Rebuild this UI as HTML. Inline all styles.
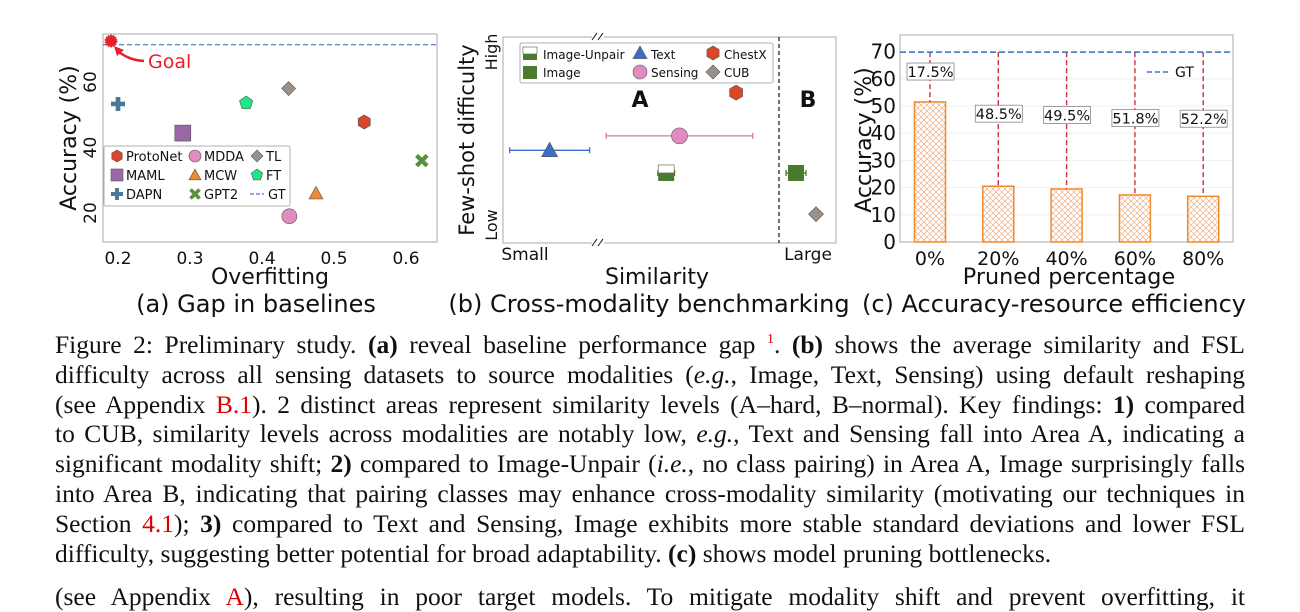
<!DOCTYPE html>
<html><head><meta charset="utf-8">
<style>
html,body{margin:0;padding:0;background:#fff;width:1300px;height:600px;overflow:hidden}
svg text{font-family:"DejaVu Sans","Liberation Sans",sans-serif}
.cap{position:absolute;left:55px;width:1190px;font-family:"Liberation Serif",serif;font-size:25.5px;line-height:29.8px;color:#111}
.cap div{text-align:justify;text-align-last:justify;white-space:nowrap;height:29.8px}
.cap div.last{text-align-last:left}
.r{color:#d00}
sup{font-size:14px;line-height:0;vertical-align:baseline;position:relative;top:-10px}
</style></head><body>
<svg id="fig" width="1300" height="325" style="position:absolute;left:0;top:0">
<defs>
<pattern id="hatch" width="6" height="6" patternUnits="userSpaceOnUse">
<rect width="6" height="6" fill="#fff"/>
<path d="M0,0L6,6M6,0L0,6" stroke="#f0a070" stroke-width="0.6"/>
</pattern>
</defs>
</svg>
<div class="cap" style="top:330px">
<div>Figure 2: Preliminary study. <b>(a)</b> reveal baseline performance gap <sup class="r">1</sup>. <b>(b)</b> shows the average similarity and FSL</div>
<div>difficulty across all sensing datasets to source modalities (<i>e.g.</i>, Image, Text, Sensing) using default reshaping</div>
<div>(see Appendix <span class="r">B.1</span>). 2 distinct areas represent similarity levels (A–hard, B–normal). Key findings: <b>1)</b> compared</div>
<div>to CUB, similarity levels across modalities are notably low, <i>e.g.</i>, Text and Sensing fall into Area A, indicating a</div>
<div>significant modality shift; <b>2)</b> compared to Image-Unpair (<i>i.e.</i>, no class pairing) in Area A, Image surprisingly falls</div>
<div>into Area B, indicating that pairing classes may enhance cross-modality similarity (motivating our techniques in</div>
<div>Section <span class="r">4.1</span>); <b>3)</b> compared to Text and Sensing, Image exhibits more stable standard deviations and lower FSL</div>
<div class="last">difficulty, suggesting better potential for broad adaptability. <b>(c)</b> shows model pruning bottlenecks.</div>
<div style="margin-top:14px">(see Appendix <span class="r">A</span>), resulting in poor target models. To mitigate modality shift and prevent overfitting, it</div>
</div>
<script>
// Panel (a) data
const aNames = ["ProtoNet","MAML","DAPN","MDDA","MCW","GPT2","TL","FT"];
const aOverfit = [0.542,0.29,0.2,0.438,0.475,0.622,0.437,0.378];
const aAcc = [47.8,44.4,53.3,19,26,36,58,53.6];
const aGT = 71.4;
const aXTicks = [0.2,0.3,0.4,0.5,0.6];
const aYTicks = [20,40,60];
// Panel (b) data (relative units 0..100)
const bNames = ["Text","Sensing","Image-Unpair","Image","ChestX","CUB"];
const bSim = [14,53,49,88,70,94];
const bSimErr = [12,22,2.5,3,0,0];
const bDiff = [45,52,34,34,73,14];
// Panel (c) data
const cCats = ["0%","20%","40%","60%","80%"];
const cAcc = [51.5,20.5,19.5,17.3,16.8];
const cLabels = ["17.5%","48.5%","49.5%","51.8%","52.2%"];
const cGT = 69.8;
const cYTicks = [0,10,20,30,40,50,60,70];

const svg=document.getElementById('fig');
const NS='http://www.w3.org/2000/svg';
function el(tag,attrs,parent){const e=document.createElementNS(NS,tag);for(const k in attrs)e.setAttribute(k,attrs[k]);(parent||svg).appendChild(e);return e;}
function txt(s,x,y,size,attrs,parent){const t=el('text',Object.assign({x:x,y:y,'font-size':size,fill:'#111'},attrs||{}),parent);t.textContent=s;return t;}
function hex(cx,cy,r){let p=[];for(let i=0;i<6;i++){const a=Math.PI/3*i+Math.PI/6;p.push((cx+r*Math.cos(a)).toFixed(1)+','+(cy+r*Math.sin(a)).toFixed(1));}return p.join(' ');}
function pent(cx,cy,r){let p=[];for(let i=0;i<5;i++){const a=-Math.PI/2+2*Math.PI/5*i;p.push((cx+r*Math.cos(a)).toFixed(1)+','+(cy+r*Math.sin(a)).toFixed(1));}return p.join(' ');}
function marker(name,x,y,s,g){
  const st={stroke:'#555','stroke-width':0.6};
  switch(name){
    case 'ProtoNet':case 'ChestX':return el('polygon',Object.assign({points:hex(x,y,s),fill:'#d9472b'},st),g);
    case 'MAML':return el('rect',Object.assign({x:x-s,y:y-s,width:2*s,height:2*s,fill:'#9b67a6'},st),g);
    case 'DAPN':return el('path',{d:`M${x-s/3},${y-s}h${2*s/3}v${2*s/3}h${2*s/3}v${2*s/3}h${-2*s/3}v${2*s/3}h${-2*s/3}v${-2*s/3}h${-2*s/3}v${-2*s/3}h${2*s/3}z`,fill:'#4a7898'},g);
    case 'MDDA':case 'Sensing':return el('circle',Object.assign({cx:x,cy:y,r:s,fill:'#e08cc0'},st),g);
    case 'MCW':return el('polygon',Object.assign({points:`${x},${y-s} ${x+s},${y+s*0.8} ${x-s},${y+s*0.8}`,fill:'#ee8a2e'},st),g);
    case 'Text':return el('polygon',Object.assign({points:`${x},${y-s} ${x+s},${y+s*0.8} ${x-s},${y+s*0.8}`,fill:'#3a6fc4'},st),g);
    case 'GPT2':{const gg=el('g',{},g);el('path',{d:`M${x-s*0.75},${y-s*0.75}L${x+s*0.75},${y+s*0.75}M${x+s*0.75},${y-s*0.75}L${x-s*0.75},${y+s*0.75}`,stroke:'#5a8f3c','stroke-width':s*0.6},gg);return gg;}
    case 'TL':case 'CUB':return el('polygon',Object.assign({points:`${x},${y-s} ${x+s},${y} ${x},${y+s} ${x-s},${y}`,fill:'#999089'},st),g);
    case 'FT':return el('polygon',Object.assign({points:pent(x,y,s),fill:'#1ee885'},st),g);
  }
}

/* ---------- Panel A ---------- */
(function(){
  const g=el('g',{});
  
  
  const L=103,R=437,T=34,B=242;
  const xs=v=>118+(v-0.2)*720, ys=v=>213-(v-20)*3.275;
  el('rect',{x:L,y:T,width:R-L,height:B-T,fill:'none',stroke:'#aaa','stroke-width':1},g);
  aXTicks.forEach(v=>{const t=txt(v.toFixed(1),xs(v),264,17,{'text-anchor':'middle'},g);});
  aYTicks.forEach(v=>{const t=txt(String(v),0,0,17,{'text-anchor':'middle',transform:`translate(96,${ys(v)}) rotate(-90)`},g);});
  const xt=txt('Overfitting',270,284,22,{'text-anchor':'middle'},g);
  const yt=txt('Accuracy (%)',0,0,22,{'text-anchor':'middle',transform:`translate(76,138) rotate(-90)`},g);
  const gl=el('line',{x1:L,x2:R,y1:ys(aGT),y2:ys(aGT),stroke:'#4a70d0','stroke-width':1.2,'stroke-dasharray':'5,3'},g);
  
  const goal=el('circle',{cx:111,cy:41,r:5.5,fill:'#e8202a',stroke:'#e8202a','stroke-width':2,'stroke-dasharray':'1.5,1'},g);
  
  el('path',{d:'M144,61 Q128,60 118,51',fill:'none',stroke:'#e8202a','stroke-width':2.5},g);
  el('polygon',{points:'114,46 124,50 117,56',fill:'#e8202a'},g);
  const gt=txt('Goal',148,68,19,{fill:'#e8202a'},g);
  aNames.forEach((n,i)=>{const m=marker(n,xs(aOverfit[i]),ys(aAcc[i]),n==='MAML'?8:(n==='MDDA'?7.5:7),g);
    
    });
  const lg=el('g',{},g);
  
  
  el('rect',{x:104,y:146,width:186,height:60,fill:'#fff',stroke:'#999','stroke-width':0.8,rx:2},lg);
  const lay=[["ProtoNet",0,0],["MAML",0,1],["DAPN",0,2],["MDDA",1,0],["MCW",1,1],["GPT2",1,2],["TL",2,0],["FT",2,1]];
  const cx=[117,195,257],tx=[126,204,266];
  lay.forEach(([n,c,r])=>{const y=156+r*19;marker(n,cx[c],y,6,lg);txt(n,tx[c],y+5,13,{},lg);});
  el('line',{x1:250,x2:264,y1:194,y2:194,stroke:'#4a70d0','stroke-width':1.2,'stroke-dasharray':'4,2'},lg);
  txt('GT',268,199,13,{},lg);
  const sc=txt('(a) Gap in baselines',256,312,24,{'text-anchor':'middle'});
  
})();

/* ---------- Panel B ---------- */
(function(){
  const g=el('g',{});
  
  
  const L=503,R=836,T=37,B=243;
  const xs=v=>L+v*(R-L)/100, ys=v=>B-v*(B-T)/100;
  el('rect',{x:L,y:T,width:R-L,height:B-T,fill:'none',stroke:'#aaa','stroke-width':1},g);
  [T,B].forEach(y=>{el('rect',{x:592,y:y-4,width:12,height:8,fill:'#fff'},g);el('path',{d:`M592,${y+3}l5,-7M598,${y+3}l5,-7`,stroke:'#111','stroke-width':1},g);});
  el('line',{x1:779,x2:779,y1:T,y2:B,stroke:'#111','stroke-width':1.2,'stroke-dasharray':'4,3'},g);
  txt('A',640,107,22,{'text-anchor':'middle','font-weight':'bold'},g);
  txt('B',808,107,22,{'text-anchor':'middle','font-weight':'bold'},g);
  txt('Small',525,260,17,{'text-anchor':'middle'},g);
  txt('Large',808,260,17,{'text-anchor':'middle'},g);
  const xt=txt('Similarity',657,284,22,{'text-anchor':'middle'},g);
  const yt=txt('Few-shot difficulty',0,0,21,{'text-anchor':'middle',transform:`translate(474,140) rotate(-90)`},g);
  txt('High',0,0,16,{'text-anchor':'middle',transform:`translate(497,52) rotate(-90)`},g);
  txt('Low',0,0,16,{'text-anchor':'middle',transform:`translate(497,225) rotate(-90)`},g);
  const ecol={Text:'#3a6fc4',Sensing:'#d07ab0','Image-Unpair':'#4a7a2e',Image:'#4a7a2e'};
  bNames.forEach((n,i)=>{
    const x=xs(bSim[i]),y=ys(bDiff[i]);
    if(bSimErr[i]>0){const x1=xs(bSim[i]-bSimErr[i]),x2=xs(bSim[i]+bSimErr[i]);
      el('path',{d:`M${x1},${y}H${x2}M${x1},${y-3}v6M${x2},${y-3}v6`,stroke:ecol[n],'stroke-width':1.3},g);}
    let m;
    if(n==='Image-Unpair'){m=el('g',{},g);el('rect',{x:x-8,y:y-8,width:16,height:8,fill:'#fff',stroke:'#555','stroke-width':0.6},m);el('rect',{x:x-8,y:y,width:16,height:8,fill:'#4a7a2e'},m);}
    else if(n==='Image'){m=el('rect',{x:x-8,y:y-8,width:16,height:16,fill:'#4a7a2e'},g);}
    else m=marker(n,x,y,n==='Sensing'?8:(n==='Text'?8:7.5),g);
    
    
  });
  const lg=el('g',{},g);
  
  
  el('rect',{x:520,y:43,width:253,height:40,fill:'#fff',stroke:'#999','stroke-width':0.8,rx:2},lg);
  el('rect',{x:523,y:47,width:14,height:7,fill:'#fff',stroke:'#555','stroke-width':0.6},lg);
  el('rect',{x:523,y:54,width:14,height:6,fill:'#4a7a2e'},lg);
  txt('Image-Unpair',543,59,12,{},lg);
  el('rect',{x:523,y:66,width:14,height:13,fill:'#4a7a2e'},lg);
  txt('Image',543,77,12,{},lg);
  marker('Text',640,53,7,lg);txt('Text',651,59,12,{},lg);
  marker('Sensing',640,72,7,lg);txt('Sensing',651,77,12,{},lg);
  marker('ChestX',713,53,7,lg);txt('ChestX',724,59,12,{},lg);
  marker('CUB',713,72,7,lg);txt('CUB',724,77,12,{},lg);
  const sc=txt('(b) Cross-modality benchmarking',649,312,24,{'text-anchor':'middle'});
  
})();

/* ---------- Panel C ---------- */
(function(){
  const g=el('g',{});
  
  
  const L=900,R=1233,T=35,B=242;
  const ys=v=>B-v*2.72, xs=i=>930+i*68.3;
  cYTicks.forEach(v=>{el('line',{x1:L,x2:R,y1:ys(v),y2:ys(v),stroke:'#eee','stroke-width':0.8},g);
    const t=txt(String(v),896,ys(v)+7,20,{'text-anchor':'end'},g);});
  el('rect',{x:L,y:T,width:R-L,height:B-T,fill:'none',stroke:'#aaa','stroke-width':1},g);
  cCats.forEach((c,i)=>{
    const x=xs(i),top=ys(cAcc[i]);
    const b=el('rect',{x:x-15.5,y:top,width:31,height:B-top,fill:'url(#hatch)',stroke:'#ee8a2e','stroke-width':1.5},g);
    
    
    el('line',{x1:x,x2:x,y1:ys(cGT),y2:top,stroke:'#c83040','stroke-width':1.4,'stroke-dasharray':'5,3'},g);
    const t=txt(c,x,265,19,{'text-anchor':'middle'},g);
    const ly=(ys(cGT)+top)/2-5;
    const lb=el('g',{},g);
    
    
    el('rect',{x:x-23,y:ly-9,width:47,height:17,fill:'#fff',stroke:'#888','stroke-width':0.8},lb);
    txt(cLabels[i],x+0.5,ly+5,14.5,{'text-anchor':'middle'},lb);
  });
  const gl=el('line',{x1:L,x2:R,y1:ys(cGT),y2:ys(cGT),stroke:'#3a6fc4','stroke-width':1.5,'stroke-dasharray':'6,3'},g);
  
  el('line',{x1:1147,x2:1171,y1:72,y2:72,stroke:'#3a6fc4','stroke-width':1.5,'stroke-dasharray':'5,3'},g);
  txt('GT',1175,77,14,{},g);
  const xt=txt('Pruned percentage',1069,284,22.3,{'text-anchor':'middle'},g);
  const yt=txt('Accuracy (%)',0,0,22,{'text-anchor':'middle',transform:`translate(871,140) rotate(-90)`},g);
  const sc=txt('(c) Accuracy-resource efficiency',1054,312,24,{'text-anchor':'middle'});
  
})();
</script>
</body></html>
